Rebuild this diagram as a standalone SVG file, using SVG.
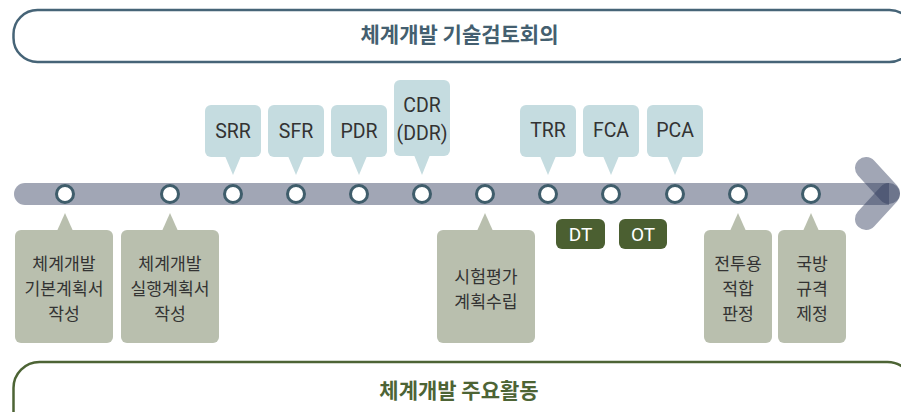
<svg xmlns="http://www.w3.org/2000/svg" width="901" height="412" viewBox="0 0 901 412">
<style>
.kr{font-family:"Noto Sans CJK KR","Noto Sans",sans-serif}
.lat{font-family:"Roboto","Noto Sans CJK KR",sans-serif}
.top rect,.top path{fill:#c5dce0}
.bot rect,.bot path{fill:#b9bfae}
.ot rect{fill:#4b5f31}
.t1{font-size:19.5px;fill:#333;text-anchor:middle}
.t2{font-size:17.2px;fill:#333;text-anchor:middle}
.t3{font-size:19px;fill:#fff;text-anchor:middle}
.dot{fill:#fff;stroke:#3f5d6b;stroke-width:3}
.arm{stroke:#2f3a5c;stroke-opacity:.45;stroke-width:22;stroke-linecap:round;fill:none}
</style>
<rect width="901" height="412" fill="#fff"/>
<g id="frame-top">
<rect x="13.5" y="10" width="900" height="52" rx="24" fill="none" stroke="#466477" stroke-width="2.5"/>
<text x="459.5" y="42" class="kr" font-size="21" font-weight="bold" fill="#445f70" text-anchor="middle">체계개발 기술검토회의</text>
</g>
<g id="frame-bottom">
<rect x="13.5" y="362" width="900" height="80" rx="26" fill="none" stroke="#4d6435" stroke-width="2.5"/>
<text x="459" y="398" class="kr" font-size="21" font-weight="bold" fill="#4d6435" text-anchor="middle">체계개발 주요활동</text>
</g>
<g id="timeline">
<path d="M25 183 H889 V205 H25 A11 11 0 0 1 25 183 Z" fill="#2f3a5c" fill-opacity=".45"/>
<line class="arm" x1="866" y1="168" x2="889" y2="193"/>
<line class="arm" x1="866" y1="219" x2="889" y2="194"/>
</g>
<g id="connectors">
<circle class="dot" cx="65" cy="194" r="8.5"/>
<circle class="dot" cx="170" cy="194" r="8.5"/>
<circle class="dot" cx="233" cy="194" r="8.5"/>
<circle class="dot" cx="296" cy="194" r="8.5"/>
<circle class="dot" cx="359" cy="194" r="8.5"/>
<circle class="dot" cx="422" cy="194" r="8.5"/>
<circle class="dot" cx="485" cy="194" r="8.5"/>
<circle class="dot" cx="548" cy="194" r="8.5"/>
<circle class="dot" cx="611" cy="194" r="8.5"/>
<circle class="dot" cx="675" cy="194" r="8.5"/>
<circle class="dot" cx="738" cy="194" r="8.5"/>
<circle class="dot" cx="811" cy="194" r="8.5"/>
</g>
<g id="srr" class="top"><rect x="205" y="105" width="56" height="52" rx="6"/><path d="M225 156 L241 156 L233 175 Z"/><text x="233" y="138" class="lat t1">SRR</text></g>
<g id="sfr" class="top"><rect x="268" y="105" width="56" height="52" rx="6"/><path d="M288 156 L304 156 L296 175 Z"/><text x="296" y="138" class="lat t1">SFR</text></g>
<g id="pdr" class="top"><rect x="331" y="105" width="56" height="52" rx="6"/><path d="M351 156 L367 156 L359 175 Z"/><text x="359" y="138" class="lat t1">PDR</text></g>
<g id="cdr" class="top"><rect x="394" y="80" width="56" height="76" rx="6"/><path d="M414 155 L430 155 L422 175 Z"/><text x="422" y="112" class="lat t1">CDR</text><text x="422" y="140" class="lat t1">(DDR)</text></g>
<g id="trr" class="top"><rect x="520" y="105" width="56" height="52" rx="6"/><path d="M540 156 L556 156 L548 175 Z"/><text x="548" y="137" class="lat t1">TRR</text></g>
<g id="fca" class="top"><rect x="583" y="105" width="56" height="52" rx="6"/><path d="M603 156 L619 156 L611 175 Z"/><text x="611" y="137" class="lat t1">FCA</text></g>
<g id="pca" class="top"><rect x="647" y="105" width="56" height="52" rx="6"/><path d="M667 156 L683 156 L675 175 Z"/><text x="675" y="137" class="lat t1">PCA</text></g>
<g id="dt" class="ot"><rect x="556" y="219" width="49" height="30" rx="6"/><text x="580.5" y="241" class="lat t3">DT</text></g>
<g id="ot" class="ot"><rect x="619" y="219" width="48" height="30" rx="6"/><text x="643" y="241" class="lat t3">OT</text></g>
<g id="plan-basic" class="bot"><rect x="15" y="230" width="98" height="113" rx="6"/><path d="M57 231 L73 231 L65 213 Z"/><text class="kr t2" x="64" y="270">체계개발</text><text class="kr t2" x="64" y="295">기본계획서</text><text class="kr t2" x="64" y="320">작성</text></g>
<g id="plan-exec" class="bot"><rect x="121" y="230" width="98" height="113" rx="6"/><path d="M162 231 L178 231 L170 213 Z"/><text class="kr t2" x="170" y="270">체계개발</text><text class="kr t2" x="170" y="295">실행계획서</text><text class="kr t2" x="170" y="320">작성</text></g>
<g id="test-plan" class="bot"><rect x="437" y="230" width="98" height="113" rx="6"/><path d="M477 231 L493 231 L485 213 Z"/><text class="kr t2" x="486" y="283">시험평가</text><text class="kr t2" x="486" y="308">계획수립</text></g>
<g id="fitness" class="bot"><rect x="704" y="230" width="68" height="113" rx="6"/><path d="M730 231 L746 231 L738 213 Z"/><text class="kr t2" x="738" y="270">전투용</text><text class="kr t2" x="738" y="295">적합</text><text class="kr t2" x="738" y="320">판정</text></g>
<g id="standard" class="bot"><rect x="778" y="230" width="68" height="113" rx="6"/><path d="M803 231 L819 231 L811 213 Z"/><text class="kr t2" x="812" y="270">국방</text><text class="kr t2" x="812" y="295">규격</text><text class="kr t2" x="812" y="320">제정</text></g>
</svg>
